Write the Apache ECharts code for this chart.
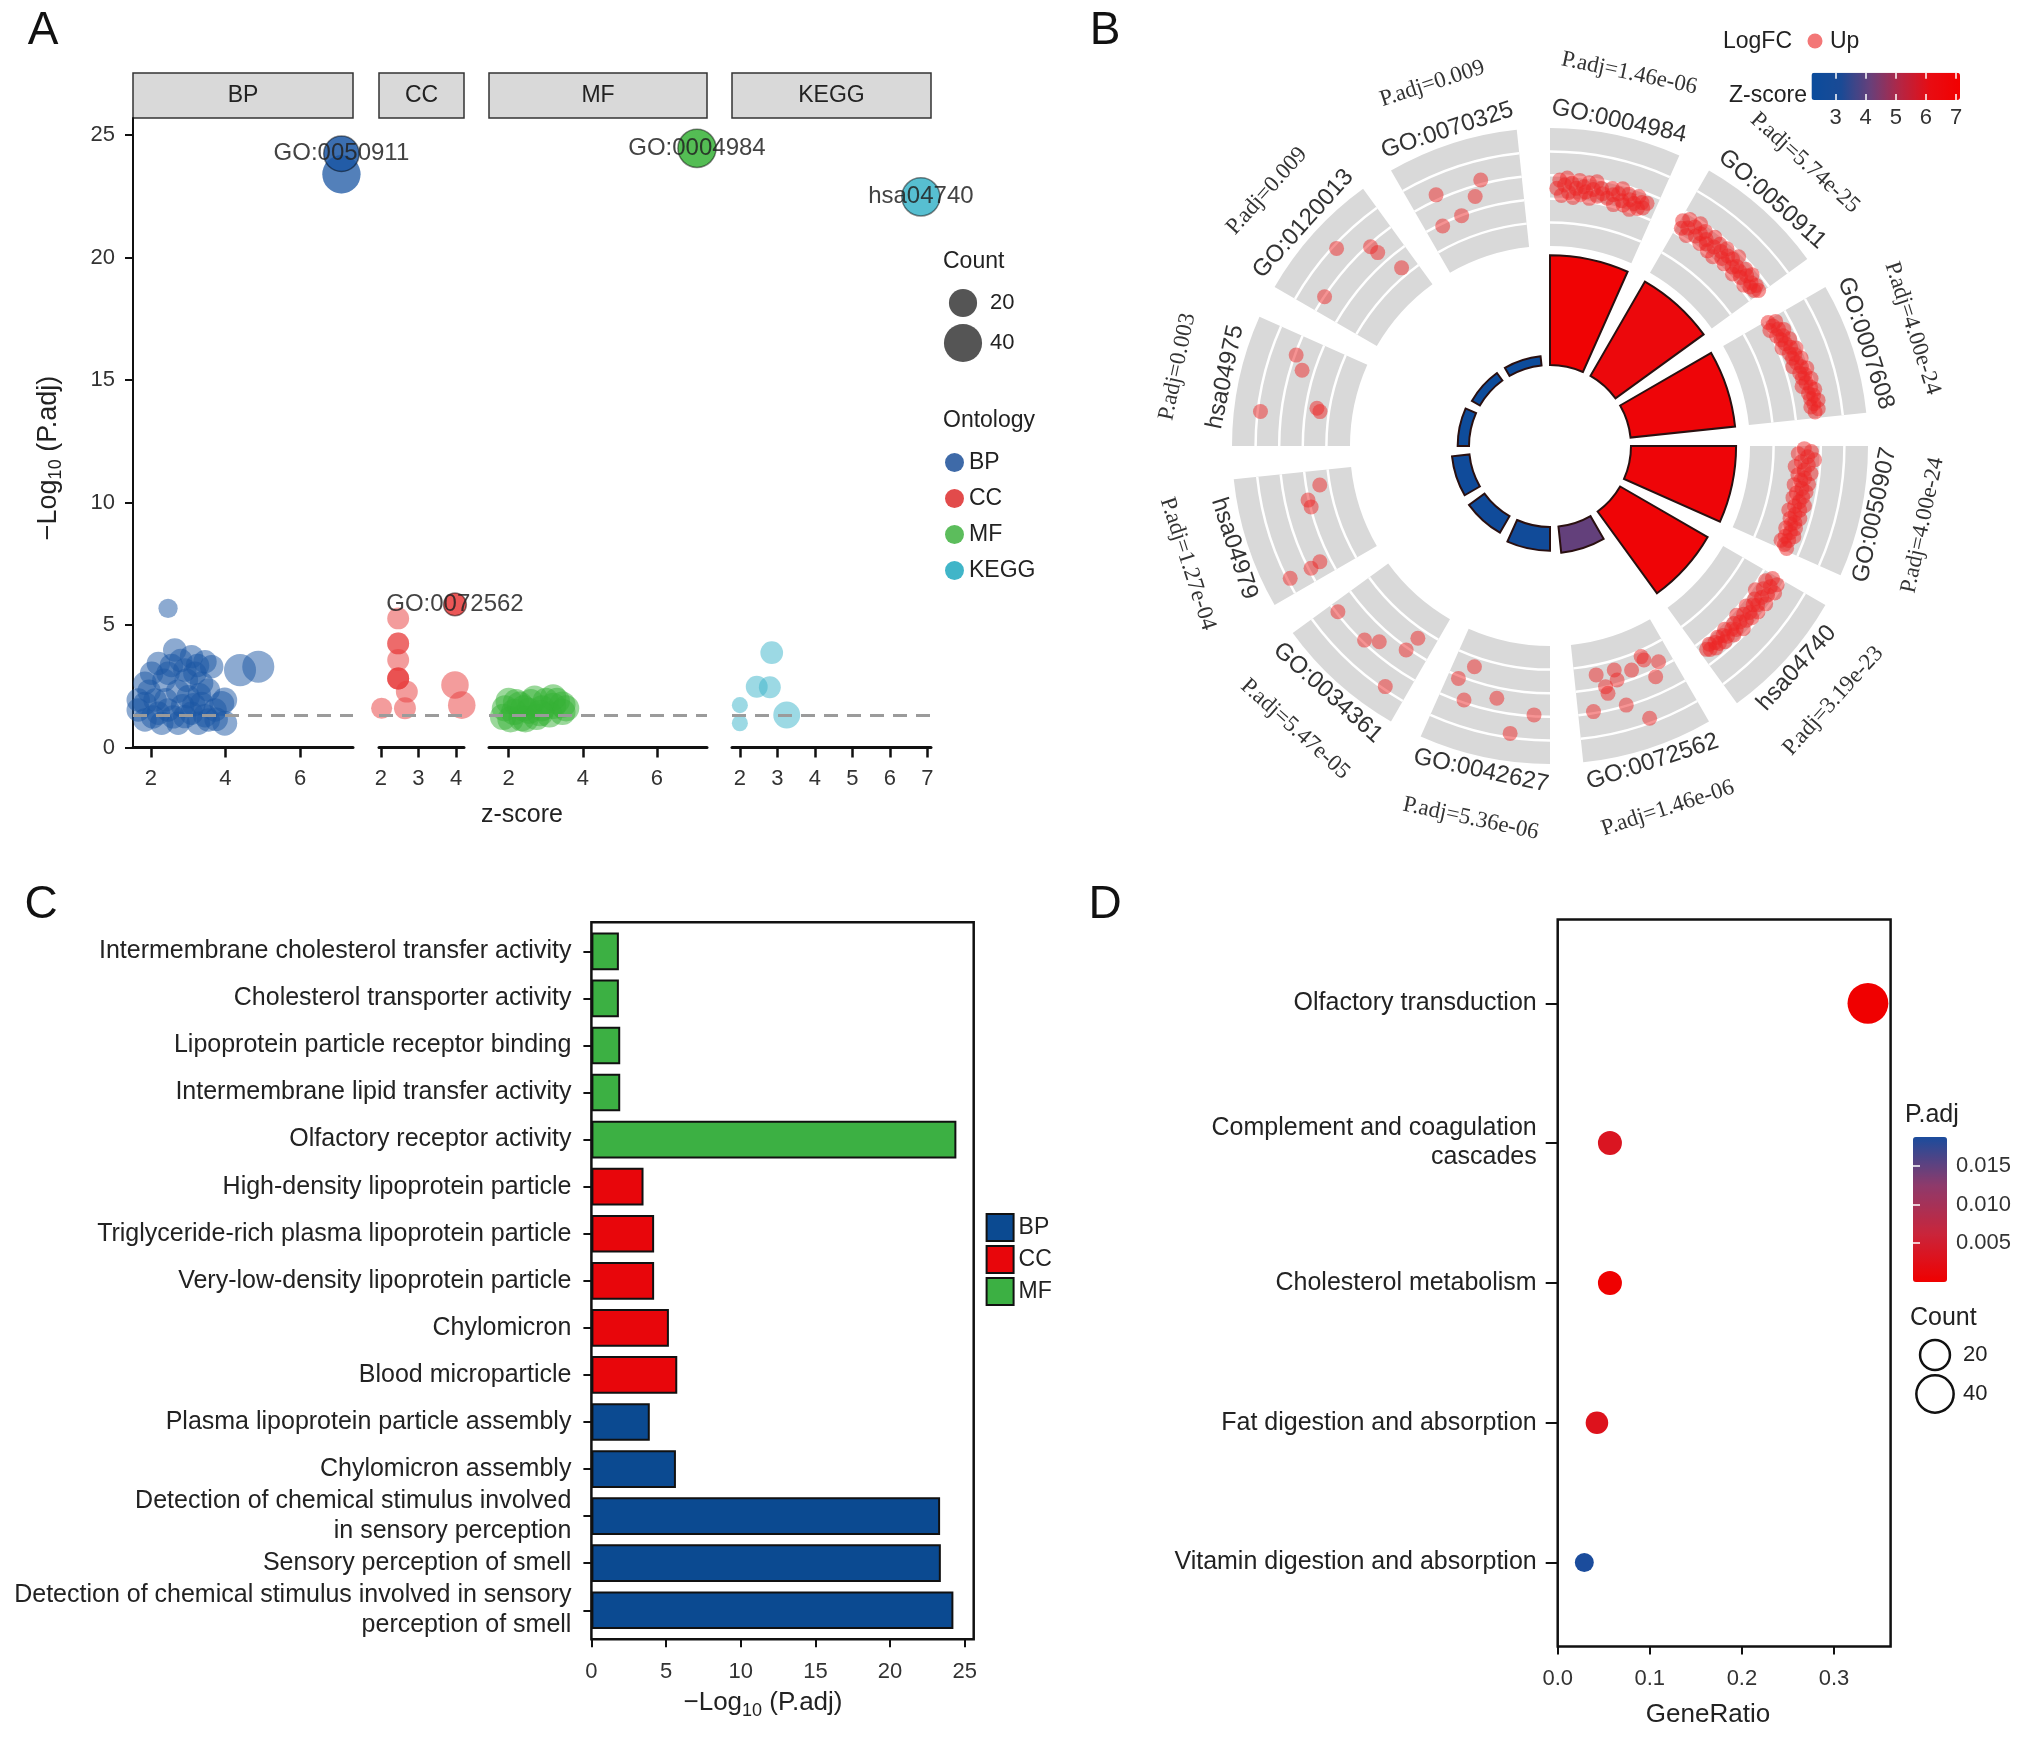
<!DOCTYPE html>
<html>
<head>
<meta charset="utf-8">
<script src="https://cdn.jsdelivr.net/npm/echarts@6.0.0/dist/echarts.min.js"></script>
<style>
html,body{margin:0;padding:0;background:#fff;}
#chart{width:2032px;height:1738px;}
</style>
</head>
<body>
<div id="chart"></div>
<script>
/* ================= DATA ================= */
// ---- Panel A : [z-score, -log10(P.adj), count]
const A_FACETS = ['BP', 'CC', 'MF', 'KEGG'];
const A_BP = [
  [2.46,5.68,8],[4.39,3.16,27],[4.88,3.30,27],
  [2.64,3.98,13],[2.20,3.43,13],[3.45,3.50,13],[1.84,2.62,13],[3.18,3.03,13],[2.46,3.03,13],
  [2.91,3.16,13],[2.11,1.94,13],[1.66,1.53,13],[1.84,1.12,13],[2.29,0.99,13],[2.73,0.99,13],
  [3.09,1.40,13],[3.36,1.80,13],[3.90,1.80,15],[3.98,0.99,15],[3.54,1.12,13],[2.46,1.53,13],
  [2.72,2.30,13],[3.36,2.62,13],[2.02,3.03,13],[3.09,3.71,13],[3.63,3.30,13],[3.54,2.35,13],
  [3.00,2.07,13],[1.84,1.80,13],[2.20,1.40,13],[2.91,1.26,13],[3.27,0.99,13],[3.72,1.53,13],
  [1.66,1.94,13],[3.98,1.94,15],
  [2.35,2.75,13],[2.55,3.35,13],[2.80,3.55,13],[3.25,3.35,13],[2.60,1.25,13],[3.15,1.75,13],
  [2.40,1.95,13],[2.85,1.70,13],[3.45,1.30,13],[2.05,1.25,13],[1.95,2.30,13],[3.30,2.15,13],
  [2.95,2.75,13],[3.75,1.15,13],
  [7.11,23.40,40],[7.11,23.40,40]
];
const A_CC = [
  [2.46,5.27,11],[2.46,4.25,11],[2.46,4.25,11],[2.46,3.57,11],[2.46,2.82,11],[2.46,2.82,11],
  [2.46,2.82,11],[2.69,2.28,11],[2.02,1.60,10],[2.64,1.60,11],[3.97,2.55,19],[4.15,1.73,19]
];
const A_MF = [
  [1.85,1.25,17],[1.90,1.60,17],[2.05,1.15,17],[2.15,1.45,17],[2.30,1.75,17],[2.35,1.20,17],
  [2.55,1.50,17],[2.60,1.85,17],[2.75,1.25,17],[2.90,1.60,17],[3.00,1.90,17],[3.10,1.35,17],
  [3.20,1.70,17],[3.30,1.90,17],[3.45,1.75,17],[3.45,1.45,17],[2.20,1.85,17],[2.45,1.15,17],
  [2.00,1.90,17],[2.70,2.00,17],[3.20,2.05,17],[3.55,1.60,17],[2.40,1.60,17],[2.85,1.40,17]
];
const A_KEGG = [[2.85,3.87,12],[2.45,2.48,11],[2.80,2.46,11],[2.00,1.73,5],[2.00,0.99,5],[3.25,1.33,18]];
const A_BP_LAB = [[7.11,24.24,34,'GO:0050911']];
const A_CC_LAB = [[3.97,5.84,12,'GO:0072562']];
const A_MF_LAB = [[7.08,24.46,40,'GO:0004984']];
const A_KEGG_LAB = [[6.83,22.48,40,'hsa04740']];
const A_X_TICKS = [[2,4,6],[2,3,4],[2,4,6],[2,3,4,5,6,7]];
const A_Y_TICKS = [0,5,10,15,20,25];
const A_SIG = 1.30103;
const A_COUNT_LEGEND = [20, 40];

// ---- Panel B : GO circle
const B_TERMS = ['GO:0004984','GO:0050911','GO:0007608','GO:0050907','hsa04740','GO:0072562',
                 'GO:0042627','GO:0034361','hsa04979','hsa04975','GO:0120013','GO:0070325'];
const B_PADJ = ['1.46e-06','5.74e-25','4.00e-24','4.00e-24','3.19e-23','1.46e-06',
                '5.36e-06','5.47e-05','1.27e-04','0.003','0.009','0.009'];
const B_LOGP = [24.44,24.24,23.40,23.40,22.50,5.84,5.27,4.26,3.90,2.52,2.05,2.05];
const B_Z = [6.9,6.5,6.7,6.7,6.8,4.1,2.6,2.5,2.5,2.4,2.3,2.3];
// genes of each term: [angle (deg), logFC]
const B_GENES = [
  [[1.5,2.45],[2.1,2.8],[2.6,2.15],[3.2,2.6],[3.7,2.9],[4.2,2.3],[4.8,2.7],[5.3,2.1],[5.8,2.5],[6.4,2.85],[6.9,2.25],[7.4,2.6],[8.0,2.4],[8.5,2.8],[9.0,2.15],[9.6,2.55],[10.1,2.9],[10.7,2.3],[11.3,2.65],[11.8,2.45],[13.0,2.3],[13.6,2.75],[14.1,2.5],[14.7,2.1],[15.2,2.6],[15.8,2.85],[16.3,2.35],[16.9,2.2],[17.4,2.7],[18.0,2.5],[18.5,2.1],[19.1,2.4],[19.6,2.75],[20.2,2.25],[20.7,2.55],[21.3,2.35],[21.8,2.6]],
  [[30.5,2.6],[31.1,2.3],[31.7,2.8],[32.3,2.45],[32.9,2.15],[33.5,2.65],[34.1,2.9],[34.7,2.35],[35.3,2.55],[35.9,2.75],[36.5,2.2],[37.1,2.5],[37.7,2.35],[38.3,2.8],[38.9,2.15],[39.5,2.45],[40.1,2.7],[40.7,2.1],[41.3,2.5],[41.9,2.75],[42.5,2.3],[43.1,2.55],[43.7,2.2],[44.3,2.6],[44.9,2.85],[45.5,2.35],[46.1,2.5],[46.7,2.15],[47.3,2.45],[47.9,2.7],[48.5,2.3],[49.1,2.55],[49.7,2.75],[50.3,2.2],[50.9,2.5],[51.5,2.35],[52.1,2.6],[52.7,2.4],[53.3,2.55]],
  [[60.5,2.15],[61.1,2.45],[61.7,2.25],[62.3,2.05],[62.9,2.4],[63.5,2.6],[64.1,2.2],[64.7,2.45],[65.3,2.3],[65.9,2.65],[66.5,2.4],[67.1,2.2],[67.7,2.55],[68.3,2.75],[68.9,2.4],[69.5,2.6],[70.1,2.45],[70.7,2.8],[71.3,2.55],[71.9,2.35],[72.5,2.7],[73.1,2.9],[73.7,2.55],[74.3,2.75],[74.9,2.6],[75.5,2.95],[76.1,2.7],[76.7,2.5],[77.3,2.85],[77.9,3.0],[78.5,2.7],[79.1,2.9],[79.7,2.75],[80.3,3.05],[80.9,2.85],[81.5,2.7],[82.1,3.0],[82.7,2.85]],
  [[90.6,2.3],[91.2,2.6],[91.8,2.05],[92.4,2.45],[93.0,2.75],[93.6,2.2],[94.2,2.5],[94.8,1.95],[95.4,2.35],[96.0,2.65],[96.6,2.1],[97.2,2.4],[97.8,2.25],[98.4,2.6],[99.0,2.0],[99.6,2.35],[100.2,2.55],[100.8,2.15],[101.4,2.45],[102.0,2.05],[102.6,2.35],[103.2,2.6],[103.8,2.2],[104.4,2.45],[105.0,2.0],[105.6,2.3],[106.2,2.55],[106.8,2.15],[107.4,2.4],[108.0,2.25],[108.6,2.5],[109.2,2.1],[109.8,2.35],[110.4,2.55],[111.0,2.2],[111.6,2.4],[112.2,2.1],[112.8,2.3],[113.4,2.45]],
  [[120.8,2.5],[121.4,2.8],[122.0,2.3],[122.6,2.6],[123.2,2.9],[123.8,2.4],[124.4,2.7],[125.0,2.15],[125.6,2.55],[126.2,2.85],[126.8,2.35],[127.4,2.6],[128.0,2.45],[128.6,2.8],[129.2,2.25],[129.8,2.55],[130.4,2.75],[131.0,2.4],[131.6,2.65],[132.2,2.2],[132.8,2.5],[133.4,2.8],[134.0,2.35],[134.6,2.6],[135.2,2.45],[135.8,2.7],[136.4,2.25],[137.0,2.55],[137.6,2.4],[138.2,2.65],[138.8,2.3],[139.4,2.55],[140.0,2.4],[140.6,2.6],[141.2,2.3],[141.8,2.5],[142.4,2.4]],
  [[153.3,1.76],[155.4,2.28],[156.3,1.43],[156.6,1.25],[159.9,3.81],[160.0,1.63],[163.6,2.97],[164.0,1.40],[164.0,1.84],[166.8,2.29],[167.0,1.99],[168.6,1.42],[170.7,2.93]],
  [[183.4,2.94],[187.9,3.82],[191.9,2.45],[198.7,2.89],[198.9,1.41],[201.5,2.11]],
  [[214.4,3.88],[214.5,1.41],[215.2,2.10],[221.1,2.53],[223.7,2.90],[232.0,2.93]],
  [[242.9,2.90],[243.0,3.88],[243.3,2.44],[255.7,1.97],[257.4,2.03],[260.4,1.42]],
  [[276.8,3.88],[278.5,1.38],[279.2,1.53],[287.0,2.51],[289.7,2.95]],
  [[303.5,2.98],[312.8,3.85],[318.0,2.89],[318.3,2.50],[320.2,1.35]],
  [[334.0,1.90],[335.6,3.21],[339.0,1.98],[343.3,2.56],[345.4,3.17]]
];
const B_GRID = [1, 2, 3, 4];
const B_LFC_RANGE = [0, 5];
const B_Z_TICKS = [3, 4, 5, 6, 7];
const B_Z_RANGE = [2.2, 7.13];

// ---- Panel C
const C_CATS = ['Intermembrane cholesterol transfer activity','Cholesterol transporter activity',
  'Lipoprotein particle receptor binding','Intermembrane lipid transfer activity','Olfactory receptor activity',
  'High-density lipoprotein particle','Triglyceride-rich plasma lipoprotein particle',
  'Very-low-density lipoprotein particle','Chylomicron','Blood microparticle',
  'Plasma lipoprotein particle assembly','Chylomicron assembly',
  'Detection of chemical stimulus involved\nin sensory perception','Sensory perception of smell',
  'Detection of chemical stimulus involved in sensory\nperception of smell'];
const C_ONT = ['MF','MF','MF','MF','MF','CC','CC','CC','CC','CC','BP','BP','BP','BP','BP'];
const C_VALS = [1.84,1.84,1.93,1.93,24.44,3.49,4.20,4.20,5.19,5.75,3.91,5.66,23.35,23.40,24.24];
const C_GROUPS = ['BP','CC','MF'];
const C_X_TICKS = [0,5,10,15,20,25];

// ---- Panel D
const D_TERMS = ['Vitamin digestion and absorption','Fat digestion and absorption','Cholesterol metabolism',
  'Complement and coagulation\ncascades','Olfactory transduction'];
const D_RATIO = [0.0289,0.0426,0.0567,0.0567,0.3368];
const D_COUNT = [3,7,9,9,52];
const D_PADJ = [0.0187,0.0030,0.000127,0.0035,3.19e-23];
const D_X_TICKS = [0,0.1,0.2,0.3];
const D_PADJ_TICKS = [0.005,0.010,0.015];
const D_PADJ_RANGE = [0, 0.0187];
const D_COUNT_LEGEND = [20, 40];

/* ================= STYLE / LAYOUT ================= */
const FONT = "'Liberation Sans', Arial, Helvetica, sans-serif";
const SERIF = "'Liberation Serif', 'Times New Roman', serif";
const INK = '#222';
const sizeA = c => 4 + 5.4 * Math.sqrt(c);
const sizeD = c => 12 + 4 * Math.sqrt(c);

const A_COLORS = {BP:'#1a56a3', CC:'#e83a3a', MF:'#36b236', KEGG:'#3ab4c9'};
const A_LEG_COLORS = {BP:'#3e6aa8', CC:'#e24b4b', MF:'#5cbd5c', KEGG:'#40b5c8'};
const A_POINTS = {BP:A_BP, CC:A_CC, MF:A_MF, KEGG:A_KEGG};
const A_LAB = {BP:A_BP_LAB, CC:A_CC_LAB, MF:A_MF_LAB, KEGG:A_KEGG_LAB};
const LA = {top:118, height:629.5, ymax:25.7, stripTop:73, stripH:45,
  facets:[{left:133,width:220,min:1.52,max:7.42},{left:379,width:85,min:1.95,max:4.21},
          {left:489,width:218,min:1.47,max:7.35},{left:732,width:199,min:1.79,max:7.1}]};
const C_COLORS = {BP:'#0b4a91', CC:'#e8060b', MF:'#3cb043'};
const LC = {box:[591.4,922.3,382.3,717], grid:{left:591.4, top:927.8, width:382.3, height:706}, xmax:25.6};
const LD = {box:[1557.7,919.4,332.9,727], grid:{left:1557.7, top:933.4, width:332.9, height:699}, xmax:0.3614};
const B_CENTER = [1550, 446];

const grids = [], xAxes = [], yAxes = [], series = [], graphics = [];

/* ---------- Panel A ---------- */
A_FACETS.forEach((f, k) => {
  const L = LA.facets[k];
  grids.push({left:L.left, top:LA.top, width:L.width, height:LA.height});
  xAxes.push({gridIndex:k, type:'value', min:L.min, max:L.max,
    axisLine:{show:true, onZero:false, lineStyle:{color:'#111', width:3}},
    axisTick:{show:true, length:10, lineStyle:{color:'#111', width:2.5}, customValues:A_X_TICKS[k]},
    axisLabel:{customValues:A_X_TICKS[k], fontSize:22, color:'#333', margin:20, fontFamily:FONT},
    splitLine:{show:false}});
  yAxes.push({gridIndex:k, type:'value', min:0, max:LA.ymax, show:k===0,
    axisLine:{show:true, lineStyle:{color:'#111', width:2}},
    axisTick:{show:true, length:8, lineStyle:{color:'#111', width:2}, customValues:A_Y_TICKS},
    axisLabel:{customValues:A_Y_TICKS, fontSize:22, color:'#333', margin:18, fontFamily:FONT},
    splitLine:{show:false}});
  series.push({type:'scatter', name:f, xAxisIndex:k, yAxisIndex:k, z:2,
    data:A_POINTS[f], symbolSize:d => sizeA(d[2]),
    itemStyle:{color:A_COLORS[f], opacity:0.5},
    markLine:{silent:true, symbol:'none', label:{show:false}, animation:false,
      lineStyle:{color:'#9b9b9b', width:3, type:[14,9]}, data:[{yAxis:A_SIG}]}});
  series.push({type:'scatter', name:f + ' term', xAxisIndex:k, yAxisIndex:k, z:3,
    data:A_LAB[f].map(d => ({value:[d[0], d[1], d[2]], name:d[3]})),
    symbolSize:d => sizeA(d[2]),
    itemStyle:{color:A_COLORS[f], opacity:0.85, borderColor:'rgba(0,0,0,0.55)', borderWidth:1.5},
    label:{show:true, position:'inside', formatter:'{b}', fontSize:24, color:INK, fontFamily:FONT}});
  graphics.push({type:'rect', shape:{x:L.left, y:LA.stripTop, width:L.width, height:LA.stripH},
    style:{fill:'#d9d9d9', stroke:'#333', lineWidth:1.5}});
  graphics.push({type:'text', x:L.left + L.width/2, y:LA.stripTop + LA.stripH/2,
    style:{text:f, fontSize:23, fontFamily:FONT, fill:INK, align:'center', verticalAlign:'middle'}});
});
graphics.push({type:'text', x:522, y:815, style:{text:'z-score', fontSize:25, fontFamily:FONT, fill:INK, align:'center', verticalAlign:'middle'}});
graphics.push({type:'text', x:50, y:458, rotation:Math.PI/2,
  style:{text:'{a|\u2212Log}{s|10}{a| (P.adj)}', align:'center', verticalAlign:'middle',
    rich:{a:{fontSize:27, fontFamily:FONT, fill:INK, verticalAlign:'top'},
          s:{fontSize:18, fontFamily:FONT, fill:INK, verticalAlign:'top', padding:[12,0,0,0]}}}});
// Count legend (A)
graphics.push({type:'text', x:943, y:262, style:{text:'Count', fontSize:23, fontFamily:FONT, fill:INK, verticalAlign:'middle'}});
A_COUNT_LEGEND.forEach((c, j) => {
  const y = 303 + j*40;
  graphics.push({type:'circle', shape:{cx:963, cy:y, r:sizeA(c)/2}, style:{fill:'#555'}});
  graphics.push({type:'text', x:990, y:y, style:{text:String(c), fontSize:22, fontFamily:FONT, fill:INK, verticalAlign:'middle'}});
});
graphics.push({type:'text', x:943, y:421, style:{text:'Ontology', fontSize:23, fontFamily:FONT, fill:INK, verticalAlign:'middle'}});

/* ---------- Panel C ---------- */
const gC = grids.length;
grids.push(LC.grid);
xAxes.push({gridIndex:gC, type:'value', min:0, max:LC.xmax, offset:5.5,
  axisLine:{show:false},
  axisTick:{show:true, length:8, lineStyle:{color:'#111', width:2}, customValues:C_X_TICKS},
  axisLabel:{customValues:C_X_TICKS, fontSize:22, color:'#333', margin:22, fontFamily:FONT},
  splitLine:{show:false}});
yAxes.push({gridIndex:gC, type:'category', data:C_CATS, inverse:true,
  axisLine:{show:false},
  axisTick:{show:true, alignWithLabel:true, length:8, lineStyle:{color:'#111', width:2}},
  axisLabel:{fontSize:25, color:INK, margin:20, lineHeight:30, fontFamily:FONT}});
C_GROUPS.forEach(o => {
  series.push({type:'bar', name:o, xAxisIndex:gC, yAxisIndex:gC, stack:'C', barCategoryGap:'20%', z:2,
    data:C_VALS.map((v, i) => C_ONT[i] === o ? v : null),
    itemStyle:{color:C_COLORS[o], borderColor:'#111', borderWidth:2}});
});
graphics.push({type:'rect', z:100, shape:{x:LC.box[0], y:LC.box[1], width:LC.box[2], height:LC.box[3]},
  style:{fill:'none', stroke:'#111', lineWidth:2.5}});
graphics.push({type:'text', x:763, y:1705,
  style:{text:'{a|\u2212Log}{s|10}{a| (P.adj)}', align:'center', verticalAlign:'middle',
    rich:{a:{fontSize:26, fontFamily:FONT, fill:INK, verticalAlign:'top'},
          s:{fontSize:18, fontFamily:FONT, fill:INK, verticalAlign:'top', padding:[12,0,0,0]}}}});

/* ---------- Panel D ---------- */
const gD = grids.length;
grids.push(LD.grid);
xAxes.push({gridIndex:gD, type:'value', min:0, max:LD.xmax, offset:14,
  axisLine:{show:false},
  axisTick:{show:true, length:8, lineStyle:{color:'#111', width:2}, customValues:D_X_TICKS},
  axisLabel:{customValues:D_X_TICKS, formatter:v => v.toFixed(1), fontSize:22, color:'#333', margin:22, fontFamily:FONT},
  splitLine:{show:false}});
yAxes.push({gridIndex:gD, type:'category', data:D_TERMS,
  axisLine:{show:false},
  axisTick:{show:true, alignWithLabel:true, length:12, lineStyle:{color:'#111', width:2}},
  axisLabel:{fontSize:25, color:INK, margin:21, lineHeight:29, fontFamily:FONT}});
const sD = series.length;
series.push({type:'scatter', name:'D', xAxisIndex:gD, yAxisIndex:gD, z:3,
  data:D_TERMS.map((t, i) => [D_RATIO[i], t, D_COUNT[i], D_PADJ[i]]),
  symbolSize:d => sizeD(d[2]), itemStyle:{opacity:1}});
graphics.push({type:'rect', z:100, shape:{x:LD.box[0], y:LD.box[1], width:LD.box[2], height:LD.box[3]},
  style:{fill:'none', stroke:'#111', lineWidth:2.5}});
graphics.push({type:'text', x:1708, y:1715, style:{text:'GeneRatio', fontSize:26, fontFamily:FONT, fill:INK, align:'center', verticalAlign:'middle'}});
// P.adj colour-bar tick axes
const gDcb = grids.length;
grids.push({left:1913, top:1137, width:34, height:145});
xAxes.push({gridIndex:gDcb, type:'value', show:false, min:0, max:1});
yAxes.push({gridIndex:gDcb, type:'value', position:'right', min:D_PADJ_RANGE[0], max:D_PADJ_RANGE[1], z:10,
  axisLine:{show:false}, splitLine:{show:false},
  axisTick:{show:true, inside:true, length:7, lineStyle:{color:'#fff', width:1.5}, customValues:D_PADJ_TICKS},
  axisLabel:{customValues:D_PADJ_TICKS, formatter:v => v.toFixed(3), fontSize:22, color:'#333', margin:9, fontFamily:FONT}});
yAxes.push({gridIndex:gDcb, type:'value', position:'left', min:D_PADJ_RANGE[0], max:D_PADJ_RANGE[1], z:10,
  axisLine:{show:false}, splitLine:{show:false}, axisLabel:{show:false},
  axisTick:{show:true, inside:true, length:7, lineStyle:{color:'#fff', width:1.5}, customValues:D_PADJ_TICKS}});
graphics.push({type:'text', x:1905, y:1115, style:{text:'P.adj', fontSize:25, fontFamily:FONT, fill:INK, verticalAlign:'middle'}});
graphics.push({type:'text', x:1910, y:1318, style:{text:'Count', fontSize:25, fontFamily:FONT, fill:INK, verticalAlign:'middle'}});
D_COUNT_LEGEND.forEach((c, j) => {
  const y = 1355 + j*39;
  graphics.push({type:'circle', shape:{cx:1935, cy:y, r:sizeD(c)/2}, style:{fill:'none', stroke:'#111', lineWidth:2.5}});
  graphics.push({type:'text', x:1963, y:y, style:{text:String(c), fontSize:22, fontFamily:FONT, fill:INK, verticalAlign:'middle'}});
});

/* ---------- Panel B ---------- */
const gBcb = grids.length;
grids.push({left:1811.5, top:72.7, width:148.5, height:27.3});
xAxes.push({gridIndex:gBcb, type:'value', position:'bottom', min:B_Z_RANGE[0], max:B_Z_RANGE[1], z:10,
  axisLine:{show:false}, splitLine:{show:false},
  axisTick:{show:true, inside:true, length:6, lineStyle:{color:'#fff', width:1.5}, customValues:B_Z_TICKS},
  axisLabel:{customValues:B_Z_TICKS, fontSize:22, color:'#333', margin:7, fontFamily:FONT}});
xAxes.push({gridIndex:gBcb, type:'value', position:'top', min:B_Z_RANGE[0], max:B_Z_RANGE[1], z:10,
  axisLine:{show:false}, splitLine:{show:false}, axisLabel:{show:false},
  axisTick:{show:true, inside:true, length:6, lineStyle:{color:'#fff', width:1.5}, customValues:B_Z_TICKS}});
yAxes.push({gridIndex:gBcb, type:'value', show:false, min:0, max:1});

const polars = [
  {center:B_CENTER, radius:[81, 200]},
  {center:B_CENTER, radius:[200, 318]},
  {center:B_CENTER, radius:[0, 420]}
];
const angleAxes = [
  {polarIndex:0, type:'category', data:B_TERMS, startAngle:93, clockwise:true, show:false},
  {polarIndex:1, type:'value', min:0, max:360, startAngle:90, clockwise:true, show:false},
  {polarIndex:2, type:'value', min:0, max:360, startAngle:90, clockwise:true, show:false}
];
const radiusAxes = [
  {polarIndex:0, type:'value', min:0, max:26.5, show:false},
  {polarIndex:1, type:'value', min:B_LFC_RANGE[0], max:B_LFC_RANGE[1], show:false},
  {polarIndex:2, type:'value', min:0, max:420, show:false}
];
const B_STEP = 360 / B_TERMS.length;
function polarGeom(params, api, r, a) {
  const cs = params.coordSys, p = api.coord([r, a]);
  return {x:p[0], y:p[1], rad:Math.hypot(p[0]-cs.cx, p[1]-cs.cy), ang:Math.atan2(p[1]-cs.cy, p[0]-cs.cx)};
}
series.push({type:'custom', name:'ring', coordinateSystem:'polar', polarIndex:1, z:1, silent:true,
  data:B_TERMS.map((t, i) => [i]),
  renderItem:(params, api) => {
    const i = api.value(0), cs = params.coordSys;
    const a0 = i*B_STEP, a1 = a0 + B_STEP*0.8;
    const s0 = polarGeom(params, api, B_LFC_RANGE[0], a0), s1 = polarGeom(params, api, B_LFC_RANGE[1], a0);
    const e1 = polarGeom(params, api, B_LFC_RANGE[1], a1);
    let sa = s1.ang, ea = e1.ang; if (ea < sa) ea += 2*Math.PI;
    const children = [{type:'sector', shape:{cx:cs.cx, cy:cs.cy, r0:s0.rad, r:s1.rad, startAngle:sa, endAngle:ea, clockwise:true},
      style:{fill:'#d9d9d9'}}];
    B_GRID.forEach(g => {
      const gr = polarGeom(params, api, g, a0).rad;
      children.push({type:'arc', shape:{cx:cs.cx, cy:cs.cy, r:gr, startAngle:sa, endAngle:ea, clockwise:true},
        style:{stroke:'#fff', lineWidth:2.5, fill:'none'}});
    });
    return {type:'group', children};
  }});
const sBbar = series.length;
series.push({type:'bar', name:'B bars', coordinateSystem:'polar', polarIndex:0, z:2, barCategoryGap:'20%',
  encode:{radius:0, angle:1},
  data:B_TERMS.map((t, i) => [B_LOGP[i], t, B_Z[i]]),
  itemStyle:{borderColor:'#2a1010', borderWidth:2}});
series.push({type:'scatter', name:'genes', coordinateSystem:'polar', polarIndex:1, z:3,
  data:B_GENES.flat().map(g => [g[1], g[0]]),
  symbolSize:15, itemStyle:{color:'rgba(236,36,36,0.62)'}});
series.push({type:'custom', name:'labels', coordinateSystem:'polar', polarIndex:2, z:4, silent:true,
  data:B_TERMS.map((t, i) => [i]),
  renderItem:(params, api) => {
    const i = api.value(0);
    const mid = i*B_STEP + B_STEP*0.4;
    const p1 = polarGeom(params, api, 332, mid), p2 = polarGeom(params, api, 381, mid);
    let comp = p1.ang + Math.PI/2; if (comp < 0) comp += 2*Math.PI;
    let rot = -comp;
    if (comp > Math.PI/2 && comp < 3*Math.PI/2) rot += Math.PI;
    return {type:'group', children:[
      {type:'text', x:p1.x, y:p1.y, rotation:rot, style:{text:B_TERMS[i], fontSize:24, fontFamily:FONT, fill:'#333', align:'center', verticalAlign:'middle'}},
      {type:'text', x:p2.x, y:p2.y, rotation:rot, style:{text:'P.adj=' + B_PADJ[i], fontSize:23, fontFamily:SERIF, fill:'#333', align:'center', verticalAlign:'middle'}}
    ]};
  }});
graphics.push({type:'text', x:1792, y:42, style:{text:'LogFC', fontSize:23, fontFamily:FONT, fill:INK, align:'right', verticalAlign:'middle'}});
graphics.push({type:'circle', shape:{cx:1815, cy:41, r:7.5}, style:{fill:'rgba(236,36,36,0.62)'}});
graphics.push({type:'text', x:1830, y:42, style:{text:'Up', fontSize:23, fontFamily:FONT, fill:INK, verticalAlign:'middle'}});
graphics.push({type:'text', x:1807, y:96, style:{text:'Z-score', fontSize:23, fontFamily:FONT, fill:INK, align:'right', verticalAlign:'middle'}});

/* ---------- Panel letters ---------- */
[['A',43,31],['B',1105,31],['C',41,905],['D',1105,905]].forEach(l => {
  graphics.push({type:'text', x:l[1], y:l[2], style:{text:l[0], fontSize:46, fontFamily:FONT, fill:'#111', align:'center', verticalAlign:'middle'}});
});

/* ---------- Option ---------- */
const option = {
  animation:false,
  backgroundColor:'#fff',
  textStyle:{fontFamily:FONT},
  grid:grids, xAxis:xAxes, yAxis:yAxes,
  polar:polars, angleAxis:angleAxes, radiusAxis:radiusAxes,
  legend:[
    {orient:'vertical', left:945, top:451, padding:0, itemWidth:19, itemHeight:19, itemGap:13, icon:'circle', selectedMode:false,
     textStyle:{fontSize:23, color:INK, fontFamily:FONT},
     data:A_FACETS.map(f => ({name:f, itemStyle:{color:A_LEG_COLORS[f], opacity:1}}))},
    {orient:'vertical', left:985.6, top:1213, padding:0, itemWidth:27, itemHeight:27, itemGap:3, icon:'rect', selectedMode:false,
     textStyle:{fontSize:23, color:INK, fontFamily:FONT},
     data:C_GROUPS.map(o => ({name:o, itemStyle:{color:C_COLORS[o], opacity:1, borderColor:'#111', borderWidth:2}}))}
  ],
  visualMap:[
    {type:'continuous', seriesIndex:sBbar, dimension:2, min:B_Z_RANGE[0], max:B_Z_RANGE[1],
     orient:'horizontal', left:1811.5, top:72.7, itemWidth:27.3, itemHeight:148.5, padding:0, calculable:false,
     inRange:{color:['#0b4c9c','#1a4a95','#693f79','#b52543','#e80c12','#f20000']}},
    {type:'continuous', seriesIndex:sD, dimension:3, min:D_PADJ_RANGE[0], max:D_PADJ_RANGE[1],
     orient:'vertical', left:1913, top:1137, itemWidth:34, itemHeight:145, padding:0, calculable:false,
     inRange:{color:['#f00000','#c9253b','#8e3a6b','#1b4c9c']}}
  ],
  graphic:{elements:graphics},
  series:series
};
const chart = echarts.init(document.getElementById('chart'), null, {renderer:'canvas'});
chart.setOption(option);
</script>
</body>
</html>
